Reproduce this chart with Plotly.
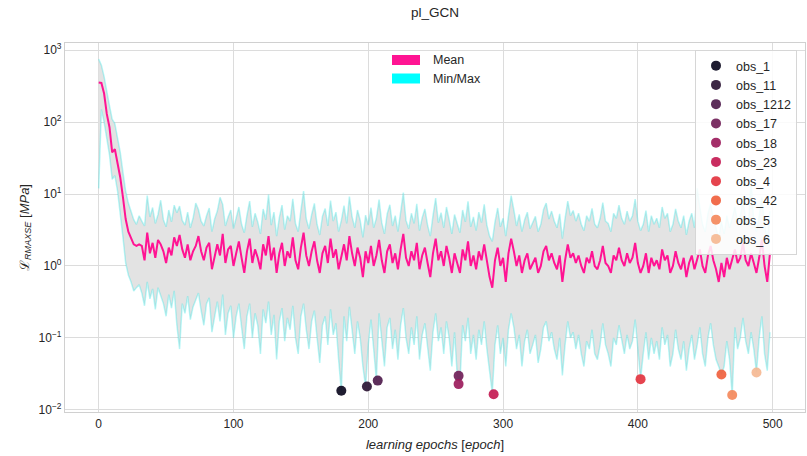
import plotly.graph_objects as go

# ---------------- data ----------------
epochs = list(range(0, 500, 2))

mean_loss = [
    355, 350, 250, 130, 85, 38, 42, 28, 17, 9,
    4.5, 3.0, 2.4, 2.0, 1.9, 2.0, 1.9, 1.2, 2.9, 1.5,
    2.1, 1.3, 2.3, 2.0, 1.6, 1.1, 1.8, 1.4, 2.5, 1.9,
    2.7, 1.7, 1.3, 2.0, 1.2, 1.6, 1.9, 2.6, 1.6, 1.2,
    1.8, 2.1, 0.9, 1.4, 2.0, 1.4, 2.8, 1.1, 1.7, 1.9,
    1.0, 1.5, 2.2, 1.3, 0.8, 1.6, 2.4, 1.1, 1.7, 1.3,
    0.9, 2.0, 1.4, 2.6, 1.2, 1.8, 0.8, 1.5, 2.1, 1.0,
    1.6, 1.3, 2.5, 1.2, 0.9, 1.8, 2.9, 1.4, 1.0, 1.6,
    2.2, 1.2, 0.8, 1.5, 1.9, 1.1, 2.4, 1.3, 1.7, 0.9,
    1.3, 2.0, 1.2, 2.6, 1.5, 1.0, 1.8, 1.3, 0.7, 1.6,
    1.1, 1.9, 1.0, 1.4, 2.3, 1.2, 0.8, 1.6, 2.0, 1.1,
    1.5, 0.9, 1.7, 2.8, 1.3, 1.0, 1.6, 1.2, 2.1, 0.9,
    1.4, 1.8, 1.1, 0.7, 1.5, 2.4, 1.2, 1.6, 1.0, 1.9,
    1.3, 0.8, 1.5, 1.1, 0.8, 1.7, 1.2, 2.2, 1.0, 1.4,
    0.9, 1.6, 1.2, 2.0, 1.1, 0.7, 0.5, 1.2, 1.8, 1.0,
    1.3, 0.6, 1.5, 2.4, 1.6, 1.0, 1.4, 0.8, 1.2, 1.5,
    0.9, 1.1, 1.3, 0.8, 1.0, 1.6, 1.9, 1.2, 1.5, 1.1,
    0.9, 1.4, 0.6, 1.2, 2.0, 1.3, 1.5, 1.1, 1.4, 1.0,
    0.8, 1.3, 1.1, 1.6, 1.0, 0.9, 1.2, 1.9, 1.1, 1.0,
    0.8, 1.4, 1.2, 1.8, 1.2, 1.0, 1.5, 1.1, 1.3, 2.1,
    1.1, 0.8, 1.0, 1.5, 0.8, 1.3, 1.0, 1.2, 0.9, 1.7,
    1.2, 1.4, 0.8, 1.0, 1.6, 1.1, 0.9, 1.3, 0.7, 1.1,
    1.4, 0.9, 1.2, 1.7, 1.0, 0.8, 1.4, 1.9, 1.2, 0.9,
    0.6, 1.1, 0.7, 1.3, 0.9, 1.2, 1.7, 1.1, 1.3, 2.1,
    1.2, 1.0, 1.5, 1.1, 0.8, 1.3, 2.3, 1.0, 0.6, 1.5,
]

max_loss = [
    750, 620, 430, 260, 170, 110, 95, 60, 38, 20,
    11, 7.5, 5.5, 4.4, 3.8, 5.0, 4.2, 3.6, 9.5, 4.8,
    6.5, 3.9, 5.2, 8.2, 4.4, 3.5, 6.0, 4.1, 7.0, 5.5,
    6.8, 4.3, 3.7, 5.6, 3.4, 4.6, 7.5, 6.1, 4.2, 3.6,
    5.0, 6.4, 3.0, 4.5, 5.8, 9.0, 7.2, 3.6, 4.8, 6.0,
    3.3, 4.9, 6.6, 3.8, 2.9, 5.1, 8.0, 3.5, 5.4, 4.1,
    2.8, 6.2, 4.4, 9.8, 3.7, 5.6, 2.6, 4.7, 7.0, 3.2,
    5.0, 4.2, 8.6, 3.9, 3.0, 5.9, 11.0, 4.5, 3.3, 5.2,
    7.4, 3.8, 2.7, 4.9, 6.3, 3.6, 8.1, 4.2, 5.6, 3.0,
    4.3, 6.9, 3.9, 9.2, 4.8, 3.4, 6.0, 4.3, 2.5, 5.1,
    3.7, 6.5, 3.4, 4.6, 8.4, 4.0, 2.8, 5.3, 7.1, 3.6,
    5.0, 3.0, 5.8, 10.5, 4.3, 3.3, 5.4, 3.9, 7.3, 3.1,
    4.7, 6.2, 3.7, 2.6, 5.0, 8.8, 4.0, 5.5, 3.4, 6.6,
    4.4, 2.8, 5.2, 3.8, 2.9, 6.0, 4.1, 7.9, 3.5, 4.8,
    3.1, 5.6, 4.0, 7.2, 3.7, 2.6, 2.2, 4.1, 6.4, 3.5,
    4.6, 2.6, 5.5, 9.5, 6.0, 3.6, 5.2, 3.0, 4.4, 5.6,
    3.3, 4.1, 4.9, 3.0, 3.8, 6.1, 7.5, 4.5, 5.8, 4.2,
    3.4, 5.3, 2.4, 4.6, 8.0, 5.0, 5.9, 4.2, 5.4, 3.8,
    3.1, 5.0, 4.2, 6.3, 3.8, 3.4, 4.6, 7.6, 4.2, 3.9,
    3.0, 5.4, 4.6, 7.0, 4.6, 3.8, 5.8, 4.2, 5.0, 8.5,
    4.2, 3.1, 3.8, 5.9, 3.0, 5.0, 3.8, 4.6, 3.4, 6.6,
    4.6, 5.4, 3.0, 3.8, 6.2, 4.2, 3.4, 5.0, 2.7, 4.2,
    5.4, 3.4, 12.0, 6.6, 3.8, 3.0, 5.4, 7.4, 4.6, 3.4,
    2.4, 4.2, 2.8, 5.0, 3.4, 4.6, 6.6, 4.2, 5.0, 8.2,
    4.6, 3.8, 16.0, 4.2, 3.0, 5.0, 9.0, 3.8, 2.4, 5.8,
]

min_loss = [
    12, 150, 100, 55, 35, 16, 18, 11, 5.5, 2.5,
    1.1, 0.75, 0.6, 0.45, 0.5, 0.55, 0.42, 0.28, 0.6, 0.35,
    0.48, 0.25, 0.5, 0.38, 0.3, 0.2, 0.4, 0.26, 0.45, 0.15,
    0.07, 0.3, 0.22, 0.38, 0.18, 0.27, 0.35, 0.42, 0.24, 0.15,
    0.3, 0.36, 0.12, 0.2, 0.32, 0.17, 0.4, 0.11, 0.22, 0.28,
    0.1, 0.2, 0.3, 0.14, 0.07, 0.2, 0.3, 0.1, 0.22, 0.15,
    0.06, 0.25, 0.16, 0.32, 0.11, 0.21, 0.05, 0.17, 0.26, 0.09,
    0.19, 0.13, 0.28, 0.1, 0.06, 0.2, 0.3, 0.13, 0.07, 0.17,
    0.24, 0.1, 0.045, 0.15, 0.2, 0.08, 0.25, 0.11, 0.16, 0.05,
    0.018, 0.2, 0.09, 0.27, 0.13, 0.06, 0.17, 0.1, 0.04, 0.021,
    0.08, 0.18, 0.07, 0.026, 0.22, 0.09, 0.04, 0.14, 0.19, 0.07,
    0.13, 0.05, 0.15, 0.26, 0.1, 0.06, 0.14, 0.08, 0.2, 0.05,
    0.11, 0.16, 0.07, 0.035, 0.12, 0.22, 0.09, 0.14, 0.06, 0.17,
    0.1, 0.04, 0.12, 0.03, 0.023, 0.15, 0.09, 0.19, 0.06, 0.11,
    0.05, 0.13, 0.08, 0.17, 0.07, 0.035, 0.017, 0.08, 0.15, 0.06,
    0.1, 0.04, 0.13, 0.22, 0.14, 0.07, 0.11, 0.04, 0.09, 0.13,
    0.06, 0.08, 0.11, 0.045, 0.07, 0.14, 0.17, 0.09, 0.12, 0.07,
    0.05, 0.1, 0.03, 0.08, 0.17, 0.1, 0.12, 0.07, 0.11, 0.06,
    0.04, 0.09, 0.07, 0.13, 0.06, 0.05, 0.08, 0.16, 0.08, 0.06,
    0.04, 0.1, 0.08, 0.15, 0.09, 0.06, 0.11, 0.07, 0.09, 0.18,
    0.07, 0.027, 0.06, 0.12, 0.05, 0.1, 0.06, 0.09, 0.05, 0.14,
    0.08, 0.11, 0.04, 0.06, 0.13, 0.07, 0.05, 0.09, 0.035, 0.07,
    0.11, 0.05, 0.08, 0.14, 0.06, 0.04, 0.1, 0.16, 0.08, 0.05,
    0.04, 0.031, 0.04, 0.09, 0.05, 0.016, 0.14, 0.07, 0.1, 0.19,
    0.09, 0.06, 0.12, 0.07, 0.033, 0.1, 0.2, 0.06, 0.035, 0.12,
]

obs_names = ["obs_1", "obs_11", "obs_1212", "obs_17", "obs_18",
             "obs_23", "obs_4", "obs_42", "obs_5", "obs_6"]
obs_epochs = [180, 199, 207, 267, 267, 293, 402, 462, 470, 488]
obs_values = [0.0184, 0.0211, 0.0255, 0.0297, 0.0228, 0.0165,
              0.0267, 0.031, 0.0161, 0.033]
obs_colors = ["#0c0a1f", "#2b1534", "#4f1c4d", "#711f58", "#9c1c5c",
              "#c41b53", "#e3343f", "#f0613e", "#f4895c", "#f5b992"]

y_tick_vals = [0.01, 0.1, 1, 10, 100, 1000]
y_tick_text = ["10<sup>\u22122</sup>", "10<sup>\u22121</sup>", "10<sup>0</sup>",
               "10<sup>1</sup>", "10<sup>2</sup>", "10<sup>3</sup>"]
x_tick_vals = [0, 100, 200, 300, 400, 500]

# ---------------- figure ----------------
FONT = "Liberation Sans, Arial, sans-serif"
W, H = 807, 456
L, R, T, B = 65, 2, 43, 44
pw, ph = W - L - R, H - T - B

def px(xp):
    return (xp - L) / pw

def py(yp):
    return (H - B - yp) / ph

fig = go.Figure()

fig.add_trace(go.Scatter(x=epochs, y=max_loss, mode="lines",
                         line=dict(color="rgba(0,225,225,0.28)", width=1.5),
                         showlegend=False, hoverinfo="skip"))
fig.add_trace(go.Scatter(x=epochs, y=min_loss, mode="lines",
                         line=dict(color="rgba(0,225,225,0.28)", width=1.5),
                         fill="tonexty", fillcolor="#e3e3e3",
                         showlegend=False, hoverinfo="skip"))
fig.add_trace(go.Scatter(x=epochs, y=mean_loss, mode="lines",
                         line=dict(color="#ff1493", width=2),
                         showlegend=False))

for name, ex, v, c in zip(obs_names, obs_epochs, obs_values, obs_colors):
    fig.add_trace(go.Scatter(x=[ex], y=[v], mode="markers", name=name,
                             marker=dict(color=c, size=10, opacity=0.92,
                                         line=dict(width=0))))

# manual legend for Mean / Min-Max
shapes = []
annotations = []
for i, (lab, col) in enumerate([("Mean", "#ff1493"), ("Min/Max", "#00ffff")]):
    yc = 60 + i * 18.5
    shapes.append(dict(type="rect", xref="paper", yref="paper",
                       x0=px(392), x1=px(420), y0=py(yc + 5), y1=py(yc - 5),
                       fillcolor=col, line=dict(width=0)))
    annotations.append(dict(text=lab, xref="paper", yref="paper",
                            x=px(431), y=py(yc), xanchor="left", yanchor="middle",
                            showarrow=False, font=dict(family=FONT, size=12.5, color="#262626")))

fig.update_layout(
    width=W, height=H,
    margin=dict(l=L, r=R, t=T, b=B),
    paper_bgcolor="white", plot_bgcolor="white",
    font=dict(family=FONT, size=12, color="#262626"),
    title=dict(text="pl_GCN", x=px(435), xref="paper", xanchor="center",
               y=1 - 12 / H, yanchor="middle", font=dict(size=13.5, color="#262626")),
    shapes=shapes,
    annotations=annotations,
    showlegend=True,
    legend=dict(x=px(695), y=py(50), xanchor="left", yanchor="top",
                traceorder="normal",
                bgcolor="rgba(255,255,255,0.85)", bordercolor="#d6d6d6", borderwidth=1,
                font=dict(family=FONT, size=12.5, color="#262626"),
                itemsizing="trace"),
    xaxis=dict(range=[-25, 524], tickvals=x_tick_vals,
               showgrid=True, gridcolor="#dcdcdc", gridwidth=1,
               showline=True, linecolor="#d0d0d0", linewidth=1.2, mirror=True,
               zeroline=False, ticks="", tickfont=dict(size=12),
               title=dict(text="<i>learning epochs</i> [<i>epoch</i>]",
                          font=dict(size=13), standoff=10)),
    yaxis=dict(type="log", range=[-2.03, 3.1], tickvals=y_tick_vals, ticktext=y_tick_text,
               showgrid=True, gridcolor="#dcdcdc", gridwidth=1,
               showline=True, linecolor="#d0d0d0", linewidth=1.2, mirror=True,
               zeroline=False, ticks="", tickfont=dict(size=12),
               title=dict(text="\u2112<sub><i>RMAXSE</i></sub> [<i>MPa</i>]",
                          font=dict(size=13), standoff=6)),
)

fig.write_html("out.html", config={"displayModeBar": False},
               post_script="document.body.style.margin='0';document.body.style.overflow='hidden';")
